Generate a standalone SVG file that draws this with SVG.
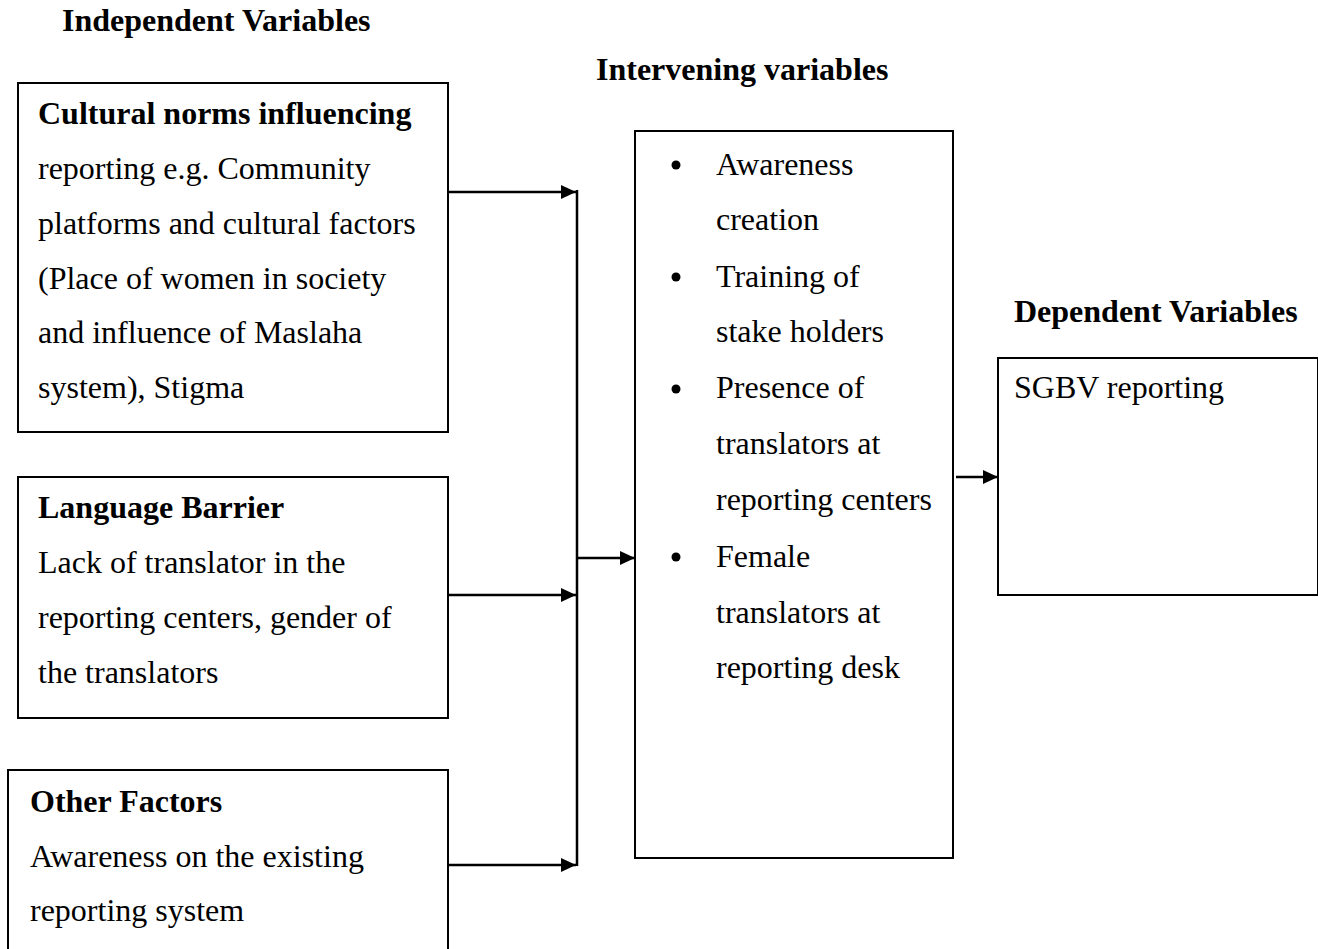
<svg xmlns="http://www.w3.org/2000/svg" width="1318" height="949" viewBox="0 0 1318 949">
<style>
text{font-family:"Liberation Serif","Times New Roman",serif;font-size:32px;fill:#000}
.b{font-weight:bold}
.box{fill:#fff;stroke:#000;stroke-width:2}
.ln{fill:none;stroke:#000;stroke-width:2.5}
</style>
<defs>
<marker id="ah" markerWidth="15" markerHeight="14" refX="15" refY="7" orient="auto" markerUnits="userSpaceOnUse">
<path d="M0,0 L15,7 L0,14 Z" fill="#000"/>
</marker>
</defs>
<rect width="1318" height="949" fill="#fff"/>
<text class="b" x="62" y="31">Independent Variables</text>
<text class="b" x="596" y="80">Intervening variables</text>
<text class="b" x="1014" y="322">Dependent Variables</text>

<g id="cultural">
<rect class="box" x="18" y="83" width="430" height="349"/>
<text class="b" x="38" y="124">Cultural norms influencing</text>
<text x="38" y="179">reporting e.g. Community</text>
<text x="38" y="234">platforms and cultural factors</text>
<text x="38" y="289">(Place of women in society</text>
<text x="38" y="343">and influence of Maslaha</text>
<text x="38" y="398">system), Stigma</text>
</g>

<g id="language">
<rect class="box" x="18" y="477" width="430" height="241"/>
<text class="b" x="38" y="518">Language Barrier</text>
<text x="38" y="573">Lack of translator in the</text>
<text x="38" y="628">reporting centers, gender of</text>
<text x="38" y="683">the translators</text>
</g>

<g id="other">
<rect class="box" x="8" y="770" width="440" height="200"/>
<text class="b" x="30" y="812">Other Factors</text>
<text x="30" y="867">Awareness on the existing</text>
<text x="30" y="921">reporting system</text>
</g>

<g id="intervening">
<rect class="box" x="635" y="131" width="318" height="727"/>
<circle cx="676" cy="165" r="4.5"/>
<text x="716" y="175">Awareness</text>
<text x="716" y="230">creation</text>
<circle cx="676" cy="277" r="4.5"/>
<text x="716" y="287">Training of</text>
<text x="716" y="342">stake holders</text>
<circle cx="676" cy="389" r="4.5"/>
<text x="716" y="398">Presence of</text>
<text x="716" y="454">translators at</text>
<text x="716" y="510">reporting centers</text>
<circle cx="676" cy="557" r="4.5"/>
<text x="716" y="567">Female</text>
<text x="716" y="623">translators at</text>
<text x="716" y="678">reporting desk</text>
</g>

<g id="dependent">
<rect class="box" x="998" y="358" width="320" height="237"/>
<text x="1014" y="398">SGBV reporting</text>
</g>

<g id="connectors">
<line class="ln" x1="448" y1="192" x2="576" y2="192" marker-end="url(#ah)"/>
<line class="ln" x1="448" y1="595" x2="576" y2="595" marker-end="url(#ah)"/>
<line class="ln" x1="448" y1="865" x2="576" y2="865" marker-end="url(#ah)"/>
<line class="ln" x1="577" y1="190" x2="577" y2="866"/>
<line class="ln" x1="577" y1="558" x2="635" y2="558" marker-end="url(#ah)"/>
<line class="ln" x1="956" y1="477" x2="998" y2="477" marker-end="url(#ah)"/>
</g>
</svg>
